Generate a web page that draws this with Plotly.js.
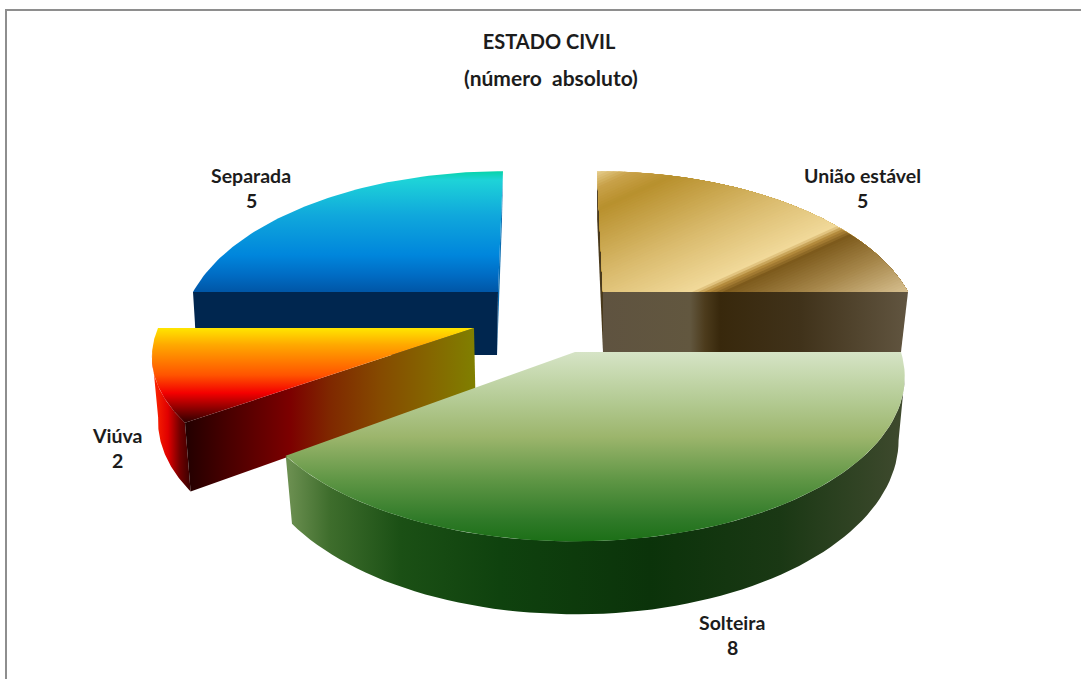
<!DOCTYPE html>
<html lang="pt">
<head>
<meta charset="utf-8">
<title>Estado civil</title>
<script src="https://cdn.plot.ly/plotly-3.0.1.min.js"></script>
<style>html,body{margin:0;padding:0;background:#fff;overflow:hidden}#chart{width:1081px;height:679px}</style>
</head>
<body>
<div id="chart"></div>
<script>
// Marital status counts, clockwise from twelve o'clock
const categories = ['União estável', 'Solteira', 'Viúva', 'Separada'];
const values = [5, 8, 2, 5];
const chartTitle = 'ESTADO CIVIL';
const chartSubtitle = '(número\u00a0\u00a0absoluto)';

// Pulled-out placement and perspective of each slice, in plot units
const views = {
  'União estável': {ax: 603, ay: 292, A: 305, R: 151, k: 0.25, s: 7.5, D: 60, vx: 603, taper: 0.977},
  'Solteira': {ax: 575, ay: 352, A: 326, R: 161, k: 0.15, s: 0, D: 62, vx: 597, taper: 0.98},
  'Viúva': {ax: 474, ay: 328, A: 316, R: 145, k: 0.17, s: -7.6, D: 62, vx: 560, taper: 0.985},
  'Separada': {ax: 498, ay: 292, A: 305, R: 151, k: 0.25, s: -6.25, D: 63, vx: 436, taper: 0.984}
};

// Label anchors: name line, value line
const labelPos = {
  'União estável': [862, 175, 200],
  'Solteira': [732, 622, 647],
  'Viúva': [117, 435, 460],
  'Separada': [251, 175, 200]
};

// Projects a point of the unit pie disc; level 0 is the top face, 1 the underside
function project(v, theta, r, level) {
  const X = r * Math.sin(theta), Y = -r * Math.cos(theta);
  const w = 1 - v.k * Y;
  let x = v.ax + (v.A * X + v.s * Y) / w;
  let y = v.ay + v.R * Y / w;
  if (level) { y += v.D / w; x = v.vx + (x - v.vx) * v.taper; }
  return [x, y];
}
function arc(v, a0, a1, level) {
  const n = 72, out = [];
  for (let i = 0; i <= n; i++) out.push(project(v, a0 + (a1 - a0) * i / n, 1, level));
  return out;
}
function gradient(type, stops) {
  const lo = stops[0][0], hi = stops[stops.length - 1][0];
  return {type, start: lo, stop: hi, colorscale: stops.map(s => [(s[0] - lo) / (hi - lo), s[1]])};
}
function area(points, fill) {
  const pts = points.concat([points[0]]);
  const t = {
    type: 'scatter', mode: 'lines', x: pts.map(p => p[0]), y: pts.map(p => p[1]),
    fill: 'toself', line: {width: 0}, hoverinfo: 'skip', showlegend: false
  };
  if (typeof fill === 'string') t.fillcolor = fill; else t.fillgradient = fill;
  return t;
}
function topFace(v, a0, a1) { return [project(v, 0, 0, 0)].concat(arc(v, a0, a1, 0)); }
function cutFace(v, a) {
  return [project(v, 0, 0, 0), project(v, a, 1, 0), project(v, a, 1, 1), project(v, 0, 0, 1)];
}
// Outer wall, trimmed to the angles where the disc's outline turns back in x
function rimWall(v, a0, a1) {
  const edge = Math.acos(-v.k);
  const from = Math.max(a0, edge), to = Math.min(a1, 2 * Math.PI - edge);
  return arc(v, from, to, 0).concat(arc(v, from, to, 1).reverse());
}

// Keeps the part of a polygon on the far side of a straight line
function clipHalf(poly, nx, ny, t0) {
  const out = [], d = p => p[0] * nx + p[1] * ny - t0;
  poly.forEach((p, i) => {
    const q = poly[(i + 1) % poly.length], dp = d(p), dq = d(q);
    if (dp >= 0) out.push(p);
    if (dp * dq < 0) {
      const u = dp / (dp - dq);
      out.push([p[0] + (q[0] - p[0]) * u, p[1] + (q[1] - p[1]) * u]);
    }
  });
  return out;
}
function hex(c) { return [1, 3, 5].map(i => parseInt(c.substr(i, 2), 16)); }
function rampColor(stops, t) {
  let i = 0;
  while (i < stops.length - 2 && t > stops[i + 1][0]) i++;
  const [t0, c0] = stops[i], [t1, c1] = stops[i + 1];
  const u = Math.max(0, Math.min(1, (t - t0) / (t1 - t0)));
  const a = hex(c0), b = hex(c1);
  return 'rgb(' + a.map((x, j) => Math.round(x + (b[j] - x) * u)).join(',') + ')';
}
// Diagonal sheen: nested half-plane cuts of the face, painted from back to front
function diagonalSheen(poly, nx, ny, stops) {
  const traces = [], lo = stops[0][0], hi = stops[stops.length - 1][0];
  for (let t = lo; t < hi; t += 2.5) {
    const part = clipHalf(poly, nx, ny, t);
    if (part.length > 2) traces.push(area(part, rampColor(stops, t + 1.25)));
  }
  return traces;
}

// Slice angles follow from the counts
const total = values.reduce((a, b) => a + b, 0);
const spans = {};
let running = 0;
categories.forEach((c, i) => {
  spans[c] = [running / total * 2 * Math.PI, (running + values[i]) / total * 2 * Math.PI];
  running += values[i];
});

const traces = [];

// Back left: Separada
{
  const v = views['Separada'], [a0, a1] = spans['Separada'];
  traces.push(area(cutFace(v, a1), '#0a6cb0'));
  traces.push(area(cutFace(v, a0), '#00264f'));
  traces.push(area(topFace(v, a0, a1), gradient('vertical', [
    [171, '#06d3a8'], [180, '#1ed3d8'], [215, '#10a8dc'], [255, '#0086dc'], [275, '#006cc4'], [292, '#0056a6']
  ])));
}
// Back right: União estável
{
  const v = views['União estável'], [a0, a1] = spans['União estável'];
  traces.push(area(cutFace(v, a0), '#4a3a1c'));
  traces.push(area(cutFace(v, a1), gradient('horizontal', [
    [603, '#5f5340'], [690, '#62573f'], [705, '#4c3b1c'], [720, '#38280c'], [800, '#40321a'], [908, '#615540']
  ])));
  diagonalSheen(topFace(v, a0, a1), 0.414, 0.911, [
    [400, '#ecd79c'], [418, '#c9a24a'], [438, '#b8902d'], [500, '#d9ba6c'], [552, '#f1d99a'],
    [558, '#b98f3f'], [566, '#7d5a1c'], [600, '#a5864a'], [645, '#dcc596']
  ]).forEach(t => traces.push(t));
}
// Left: Viúva
{
  const v = views['Viúva'], [a0, a1] = spans['Viúva'];
  traces.push(area(rimWall(v, a0, a1), gradient('horizontal', [
    [153, '#ff2800'], [168, '#e00000'], [180, '#700000'], [195, '#220000']
  ])));
  traces.push(area(cutFace(v, a0), gradient('horizontal', [
    [185, '#220000'], [230, '#4a0000'], [290, '#7c0000'], [330, '#7f2800'], [380, '#854a00'], [430, '#856600'], [476, '#808000']
  ])));
  traces.push(area(topFace(v, a0, a1), gradient('vertical', [
    [328, '#ffe600'], [345, '#ffa800'], [375, '#ff5400'], [393, '#f40000'], [423, '#2a0000']
  ])));
}
// Front: Solteira
{
  const v = views['Solteira'], [a0, a1] = spans['Solteira'];
  traces.push(area(rimWall(v, a0, a1), gradient('horizontal', [
    [289, '#6b8f50'], [330, '#3e6d2c'], [400, '#1b5015'], [500, '#0f420e'], [650, '#0b330a'], [780, '#1a3814'], [905, '#3f4a2e']
  ])));
  traces.push(area(topFace(v, a0, a1), gradient('vertical', [
    [352, '#d6e4c6'], [400, '#b4cb94'], [437, '#9cb56c'], [480, '#5f9645'], [520, '#2f7a28'], [541, '#1c6f17']
  ])));
}

const textFont = {family: 'Lato, "Open Sans", sans-serif', size: 19.5, color: '#1c1c1c', weight: 700};
const annotations = [];
function addText(text, x, y, font) {
  annotations.push({text, x, y, xref: 'x', yref: 'y', showarrow: false, xanchor: 'center', yanchor: 'middle', font});
}
categories.forEach((c, i) => {
  const [x, y0, y1] = labelPos[c];
  addText('<b>' + c + '</b>', x, y0, textFont);
  addText('<b>' + values[i] + '</b>', x, y1, textFont);
});
const titleFont = Object.assign({}, textFont, {size: 20});
addText('<b>' + chartSubtitle + '</b>', 551, 77, Object.assign({}, textFont, {size: 21}));

const layout = {
  width: 1081, height: 679,
  margin: {l: 0, r: 0, t: 0, b: 0},
  paper_bgcolor: '#ffffff', plot_bgcolor: '#ffffff',
  showlegend: false,
  title: {text: '<b>' + chartTitle + '</b>', x: 549 / 1081, xanchor: 'center', y: 1 - 42 / 679, yanchor: 'middle', font: titleFont},
  xaxis: {range: [0, 1081], visible: false, fixedrange: true},
  yaxis: {range: [679, 0], visible: false, fixedrange: true},
  annotations,
  shapes: [
    {type: 'line', x0: 6, x1: 6, y0: 10, y1: 679, line: {color: '#8e8e8e', width: 2}},
    {type: 'line', x0: 5, x1: 1081, y0: 10, y1: 10, line: {color: '#8e8e8e', width: 2}}
  ]
};
Plotly.newPlot('chart', traces, layout, {displayModeBar: false, staticPlot: true});
</script>
</body>
</html>
